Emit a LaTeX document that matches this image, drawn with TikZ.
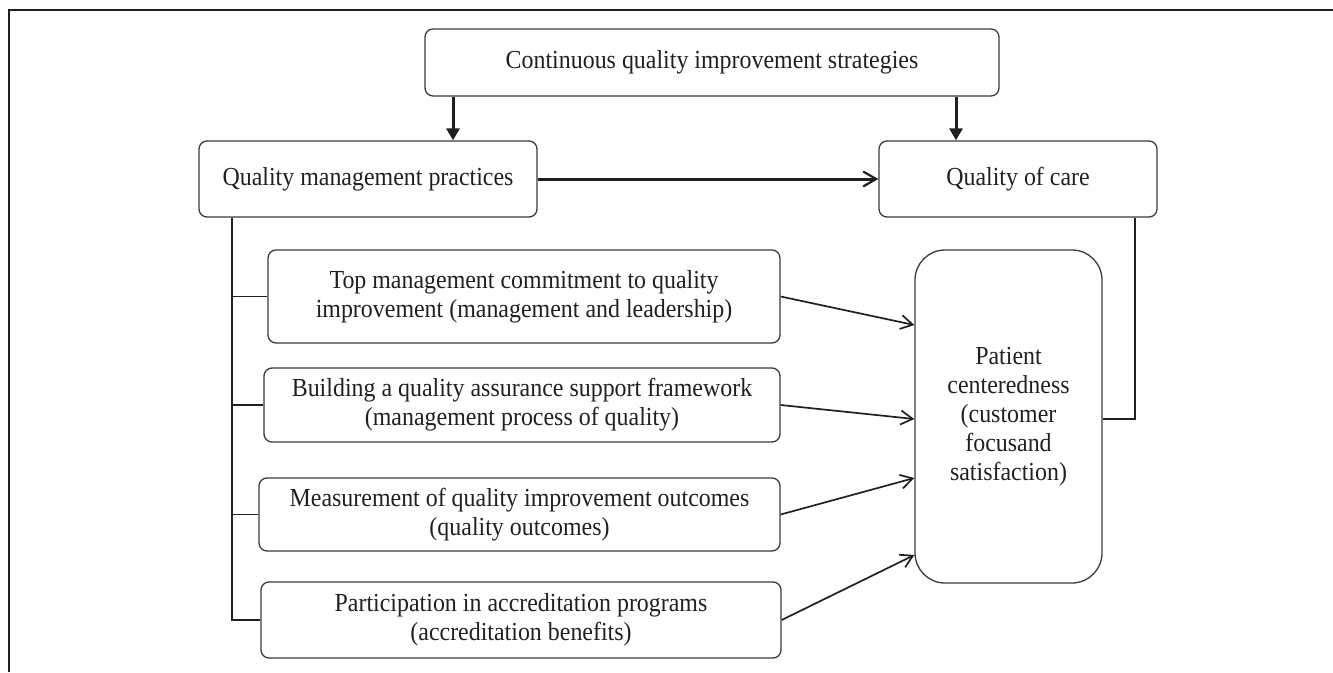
\documentclass[tikz,border=0pt]{standalone}
\usepackage{fontspec}
\setmainfont{Liberation Serif}[FakeStretch=0.92]
\usetikzlibrary{arrows.meta}
\definecolor{ink}{HTML}{231F20}
\definecolor{boxline}{HTML}{3A3A3A}
\begin{document}
\begin{tikzpicture}[x=1pt,y=-1pt,
  every node/.style={text=ink},
  box/.style={draw=boxline, line width=1.3pt, rounded corners=8pt, align=center,
    inner sep=0pt, font=\fontsize{26}{29}\selectfont},
  heavy/.style={draw=ink, line width=3pt},
  light/.style={draw=ink, line width=1.7pt},
  barb/.style={-{Straight Barb[length=12pt,width=14pt,line width=1.7pt]}},
  bigbarb/.style={-{Straight Barb[length=13pt,width=15pt,line width=2.2pt]}},
  solidtip/.style={-{Triangle[length=12pt,width=13pt]}}
]
\useasboundingbox (0,0) rectangle (1333,672);

% outer frame (left and top edges)
\draw[ink, line width=2pt] (9,672) -- (9,10) -- (1333,10);

% main boxes
\node[box, minimum width=574pt, minimum height=67pt] (top) at (712,62.5)
  {Continuous quality improvement strategies};
\node[box, minimum width=338pt, minimum height=76pt] (qmp) at (368,179)
  {Quality management practices};
\node[box, minimum width=278pt, minimum height=76pt] (qoc) at (1018,179)
  {Quality of care};

% practice boxes
\node[box, minimum width=512pt, minimum height=93pt] (b1) at (524,296.5)
  {Top management commitment to quality\\improvement (management and leadership)};
\node[box, minimum width=516pt, minimum height=74pt] (b2) at (522,405)
  {Building a quality assurance support framework\\(management process of quality)};
\node[box, minimum width=521pt, minimum height=73pt] (b3) at (519.5,514.5)
  {Measurement of quality improvement outcomes\\(quality outcomes)};
\node[box, minimum width=520pt, minimum height=76pt] (b4) at (521,620)
  {Participation in accreditation programs\\(accreditation benefits)};

% patient centeredness
\node[box, rounded corners=30pt, minimum width=187pt, minimum height=333pt] (pat) at (1008.5,416.5)
  {Patient\\centeredness\\(customer\\focusand\\satisfaction)};

% strategies feed both sides
\coordinate (d1) at (453,0);
\coordinate (d2) at (956,0);
\draw[heavy, solidtip] (top.south -| d1) -- (qmp.north -| d1);
\draw[heavy, solidtip] (top.south -| d2) -- (qoc.north -| d2);

% practices to quality of care
\draw[heavy, bigbarb] (qmp.east) -- (qoc.west);

% tree from practices to the four components
\coordinate (trunk) at (232,0);
\draw[light, line width=1.5pt] (qmp.south -| trunk) -- (trunk |- b4.west) -- (b4.west);
\draw[light, line width=1.5pt] (trunk |- b1.west) -- (b1.west);
\draw[light, line width=1.5pt] (trunk |- b2.west) -- (b2.west);
\draw[light, line width=1.5pt] (trunk |- b3.west) -- (b3.west);

% components to patient centeredness
\path (pat.west |- 0,325) coordinate (t1);
\path (pat.west |- 0,419) coordinate (t2);
\path (pat.west |- 0,478) coordinate (t3);
\path (pat.west |- 0,555) coordinate (t4);
\draw[light, barb] (b1.east) -- (t1);
\draw[light, barb] (b2.east) -- (t2);
\draw[light, barb] (b3.east) -- (t3);
\draw[light, barb] (b4.east) -- (t4);

% quality of care linked to patient centeredness
\coordinate (fb) at (1135,419);
\draw[light, line width=1.5pt] (qoc.south -| fb) -- (fb) -- (fb -| pat.east);
\end{tikzpicture}
\end{document}
